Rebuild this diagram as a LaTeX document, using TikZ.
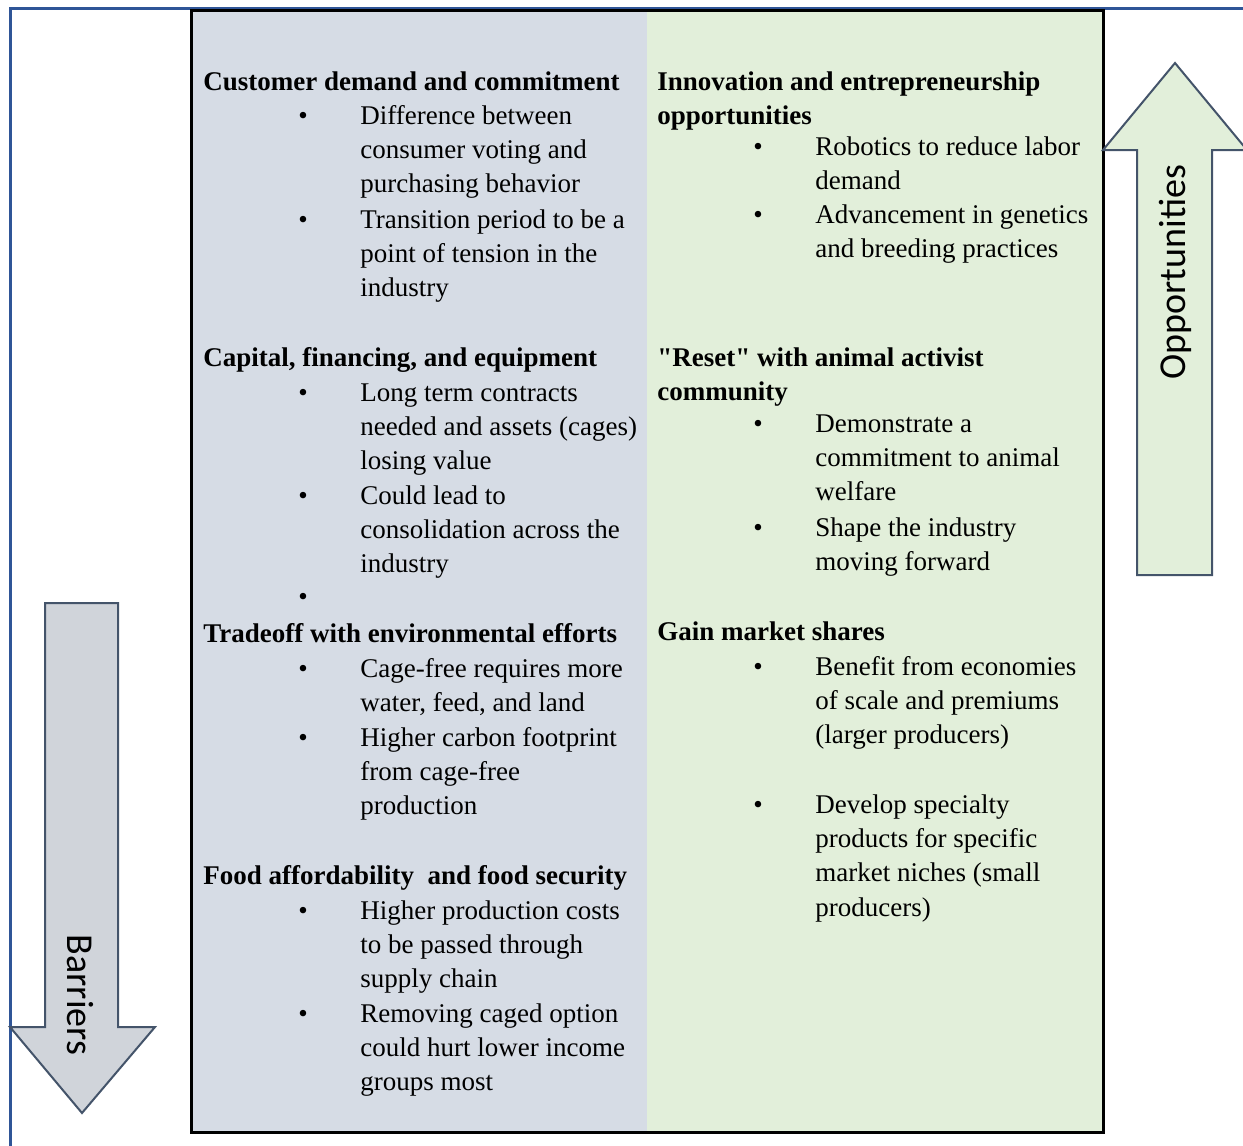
\documentclass[tikz,border=0pt]{standalone}
\usepackage{fontspec}
\setmainfont{Liberation Serif}
\newfontfamily\arrowfont{Carlito}
\definecolor{barcol}{HTML}{D6DCE5}
\definecolor{oppcol}{HTML}{E2EFDA}
\definecolor{barrow}{HTML}{D0D4DA}
\definecolor{frameblue}{HTML}{2F5597}
\definecolor{arrowline}{HTML}{44546A}
% lines of one entry, baseline on the first line
\newcommand{\entrylines}[1]{\begin{tabular}[t]{@{}l@{}}#1\end{tabular}}
\begin{document}
\begin{tikzpicture}[x=0.5pt, y=-0.5pt,
  every node/.style={inner sep=0pt, font=\fontsize{13.5}{17.2}\selectfont},
  txt/.style={anchor=base west},
  head/.style={txt, font=\fontsize{13.5}{17.2}\selectfont\bfseries},
  dot/.style={anchor=base},
  sidearrow/.style={draw=arrowline, line width=1pt, line join=miter},
  sidelabel/.style={font=\fontsize{19}{23}\selectfont\arrowfont}
  ]
  \useasboundingbox (0,0) rectangle (1243,1146);
  % outer frame
  \draw[frameblue, line width=1.5pt] (1243,8) -- (10,8) -- (10,1146);
  % the two columns
  \fill[barcol] (191,10) rectangle (647,1132);
  \fill[oppcol] (647,10) rectangle (1103,1132);
  \draw[line width=1.5pt] (191,10) rectangle (1103,1132);
  % side arrows
  \draw[sidearrow, fill=oppcol] (1137,575) -- (1137,150) -- (1103,150) -- (1175,63)
    -- (1247,150) -- (1212,150) -- (1212,575) -- cycle;
  \draw[sidearrow, fill=barrow] (45,603) -- (45,1027) -- (10,1027) -- (82,1113)
    -- (155,1027) -- (118,1027) -- (118,603) -- cycle;
  \node[sidelabel, rotate=90] (opp) at (1175,272) {Opportunities};
  \node[sidelabel, rotate=-90] (bar) at (80,995) {Barriers};

  % barriers column
  \node[head] (cust) at (203,90) {Customer demand and commitment};
  \node[dot] (d1) at (303,124) {•};
  \node[txt] (t1) at (360,124) {\entrylines{Difference between\\consumer voting and\\purchasing behavior}};
  \node[dot] (d2) at (303,228) {•};
  \node[txt] (t2) at (360,228) {\entrylines{Transition period to be a\\point of tension in the\\industry}};

  \node[head] (capi) at (203,366) {Capital, financing, and equipment};
  \node[dot] (d3) at (303,401) {•};
  \node[txt] (t3) at (360,401) {\entrylines{Long term contracts\\needed and assets (cages)\\losing value}};
  \node[dot] (d4) at (303,504) {•};
  \node[txt] (t4) at (360,504) {\entrylines{Could lead to\\consolidation across the\\industry}};
  \node[dot] (d5) at (303,605) {•};

  \node[head] (trad) at (203,642) {Tradeoff with environmental efforts};
  \node[dot] (d6) at (303,677) {•};
  \node[txt] (t6) at (360,677) {\entrylines{Cage-free requires more\\water, feed, and land}};
  \node[dot] (d7) at (303,746) {•};
  \node[txt] (t7) at (360,746) {\entrylines{Higher carbon footprint\\from cage-free\\production}};

  \node[head] (food) at (203,884) {Food affordability \ and food security};
  \node[dot] (d8) at (303,919) {•};
  \node[txt] (t8) at (360,919) {\entrylines{Higher production costs\\to be passed through\\supply chain}};
  \node[dot] (d9) at (303,1022) {•};
  \node[txt] (t9) at (360,1022) {\entrylines{Removing caged option\\could hurt lower income\\groups most}};

  % opportunities column
  \node[head] (inno) at (657,90) {\entrylines{Innovation and entrepreneurship\\opportunities}};
  \node[dot] (e1) at (758,155) {•};
  \node[txt] (u1) at (815,155) {\entrylines{Robotics to reduce labor\\demand}};
  \node[dot] (e2) at (758,223) {•};
  \node[txt] (u2) at (815,223) {\entrylines{Advancement in genetics\\and breeding practices}};

  \node[head] (rese) at (657,366) {\entrylines{\textquotedbl Reset\textquotedbl{} with animal activist\\community}};
  \node[dot] (e3) at (758,432) {•};
  \node[txt] (u3) at (815,432) {\entrylines{Demonstrate a\\commitment to animal\\welfare}};
  \node[dot] (e4) at (758,536) {•};
  \node[txt] (u4) at (815,536) {\entrylines{Shape the industry\\moving forward}};

  \node[head] (gain) at (657,640) {Gain market shares};
  \node[dot] (e5) at (758,675) {•};
  \node[txt] (u5) at (815,675) {\entrylines{Benefit from economies\\of scale and premiums\\(larger producers)}};
  \node[dot] (e6) at (758,813) {•};
  \node[txt] (u6) at (815,813) {\entrylines{Develop specialty\\products for specific\\market niches (small\\producers)}};
\end{tikzpicture}
\end{document}
